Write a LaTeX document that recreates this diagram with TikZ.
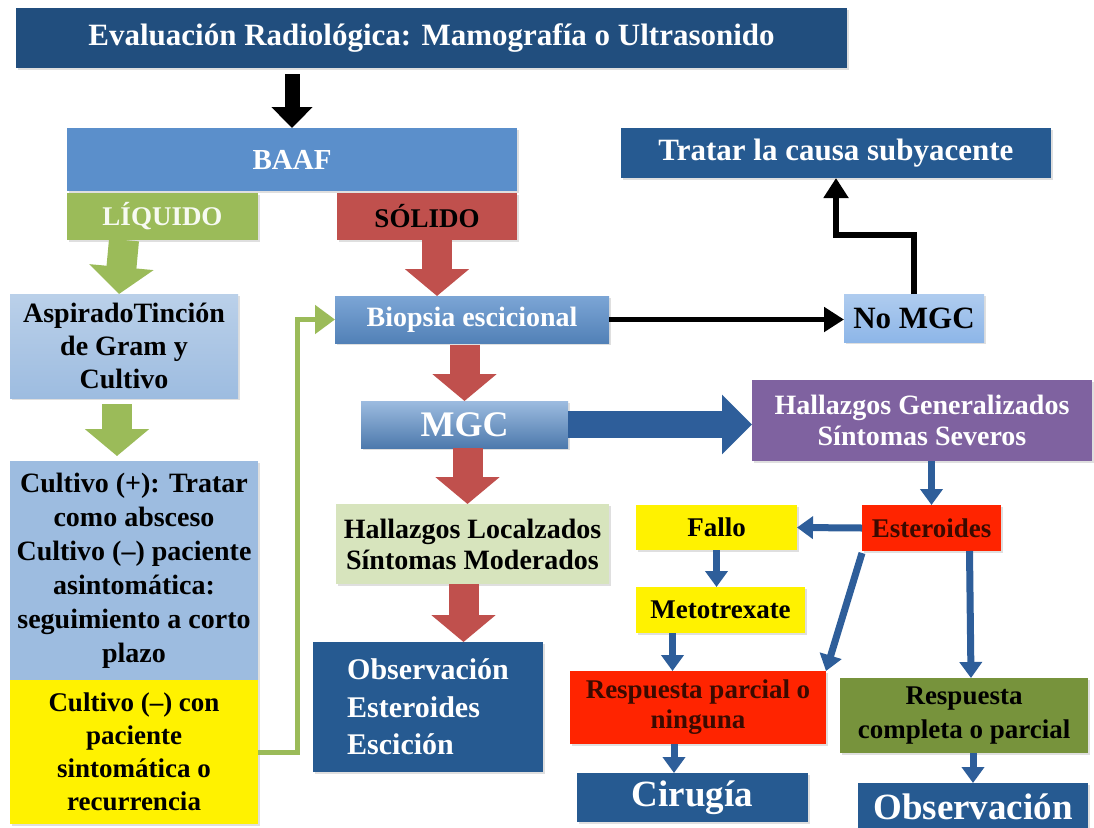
\documentclass[tikz,border=0pt]{standalone}
\usepackage{fontspec}
\setmainfont{Liberation Serif}
\usetikzlibrary{arrows.meta,calc,shadows}
\definecolor{dblue}{HTML}{214E7E}
\definecolor{mblue}{HTML}{265A91}
\definecolor{baafc}{HTML}{5B8FCB}
\definecolor{lgreen}{HTML}{9BBB59}
\definecolor{sred}{HTML}{C0504D}
\definecolor{lblue}{HTML}{9DBCE0}
\definecolor{nblue}{HTML}{8DB6E8}
\definecolor{purp}{HTML}{7F62A0}
\definecolor{pgreen}{HTML}{D7E4BD}
\definecolor{bred}{HTML}{FF2400}
\definecolor{olive}{HTML}{77933C}
\definecolor{ablue}{HTML}{2E5E9A}
\definecolor{maroon}{HTML}{3B0A00}
\newcommand\fsz[2]{\fontsize{#1}{#2}\selectfont\bfseries}
\tikzset{
  box/.style={anchor=north west, inner sep=0pt, outer sep=0pt, align=center,
    drop shadow={opacity=0.25, shadow xshift=1.5pt, shadow yshift=-1.5pt}},
  blk/.style={draw=black, line width=15pt, -{Triangle[width=40pt,length=21pt]}},
  garr/.style={draw=lgreen, line width=30pt, -{Triangle[width=63pt,length=27pt]}},
  rarr/.style={draw=sred, line width=30pt, -{Triangle[width=63pt,length=27pt]}},
  barr/.style={draw=ablue, line width=7pt, -{Triangle[width=22pt,length=16pt]}},
  bigarr/.style={draw=ablue, line width=27pt, -{Triangle[width=58pt,length=30pt]}},
  kline/.style={draw=black, line width=5pt, -{Triangle[width=24pt,length=20pt]}},
  gline/.style={draw=lgreen, line width=5pt, -{Triangle[width=28pt,length=20pt]}},
}
\begin{document}
\begin{tikzpicture}[x=1pt,y=-1pt]
\useasboundingbox[fill=white] (0,0) rectangle (1094,827);

% nodes
\node[box, fill=dblue, text=white, minimum width=831pt, minimum height=60pt, font=\fsz{31}{37}] (title) at (16,8) {Evaluación Radiológica: Mamografía o Ultrasonido};
\node[box, fill=baafc, text=white, minimum width=450pt, minimum height=63pt, font=\fsz{29}{35}] (baaf) at (67,128) {BAAF};
\node[box, fill=lgreen, text=white!92!lgreen, minimum width=191pt, minimum height=47pt, font=\fsz{27}{32}] (liq) at (67,193) {LÍQUIDO};
\node[box, fill=sred, text=black, minimum width=180pt, minimum height=47pt, font=\fsz{27}{32}] (sol) at (337,193) {SÓLIDO};
\node[box, top color=lblue!70!white, bottom color=lblue, text=black, minimum width=228pt, minimum height=104pt, font=\fsz{28}{33}] (asp) at (10,294) {AspiradoTinción\\de Gram y\\Cultivo};
\node[box, fill=lblue, text=black, minimum width=248pt, minimum height=219pt, font=\fsz{28}{34}] (cul) at (10,461) {Cultivo (+): Tratar\\como absceso\\Cultivo (--) paciente\\asintomática:\\seguimiento a corto\\plazo};
\node[box, fill=yellow, text=black, minimum width=248pt, minimum height=144pt, font=\fsz{27}{33}] (yel) at (10,680) {Cultivo (--) con\\paciente\\sintomática o\\recurrencia};
\node[box, top color=baafc!80!white, bottom color=baafc!90!black, text=white, minimum width=274pt, minimum height=47pt, font=\fsz{28}{33}] (bio) at (335,296) {Biopsia escicional};
\node[box, top color=nblue!70!white, bottom color=nblue, text=black, minimum width=140pt, minimum height=48pt, font=\fsz{31}{37}] (nomgc) at (844,294) {No MGC};
\node[box, fill=mblue, text=white, minimum width=430pt, minimum height=50pt, font=\fsz{31}{37}] (tratar) at (621,128) {Tratar la causa subyacente};
\node[box, top color=baafc!60!white, bottom color=baafc!85!black, text=white, minimum width=207pt, minimum height=47pt, font=\fsz{36}{42}] (mgc) at (361,401) {MGC};
\node[box, fill=purp, text=white, minimum width=340pt, minimum height=81pt, font=\fsz{28}{31}] (hg) at (752,380) {Hallazgos Generalizados\\Síntomas Severos};
\node[box, fill=pgreen, text=black, minimum width=273pt, minimum height=80pt, font=\fsz{28}{31}] (hl) at (336,504) {Hallazgos Localzados\\Síntomas Moderados};
\node[box, fill=mblue, text=white, minimum width=230pt, minimum height=130pt, align=left, font=\fsz{30}{37.5}] (obs) at (313,642) {Observación\\Esteroides\\Escición};
\node[box, fill=bred, text=maroon, minimum width=139pt, minimum height=46pt, font=\fsz{27}{32}] (est) at (862,505) {Esteroides};
\node[box, fill=yellow, text=black, minimum width=161pt, minimum height=45pt, font=\fsz{27}{32}] (fallo) at (636,505) {Fallo};
\node[box, fill=yellow, text=black, minimum width=169pt, minimum height=46pt, font=\fsz{27}{32}] (meto) at (636,587) {Metotrexate};
\node[box, fill=bred, text=maroon, minimum width=256pt, minimum height=73pt, font=\fsz{27}{30}] (rp) at (570,671) {Respuesta parcial o\\ninguna};
\node[box, fill=olive, text=black, minimum width=248pt, minimum height=75pt, font=\fsz{27}{34}] (rc) at (840,678) {Respuesta\\completa o parcial};
\node[box, fill=mblue, text=white, minimum width=231pt, minimum height=49pt, font=\fsz{37}{43}] (cir) at (577,773) {Cirugía};
\node[box, fill=mblue, text=white, minimum width=230pt, minimum height=47pt, font=\fsz{37}{43}] (obs2) at (858,783) {Observación};

% connectors
\draw[blk] ([yshift=-6pt]baaf.north |- title.south) -- (baaf.north);
\draw[garr] (asp.north |- liq.south) -- ([xshift=-5pt]asp.north);
\draw[garr] ([xshift=-7pt,yshift=-6pt]asp.south) -- ([xshift=-7pt,yshift=5pt]asp.south |- cul.north);
\draw[rarr] ([xshift=10pt]sol.south) -- ([xshift=10pt]sol.south |- bio.north);
\draw[rarr] ([yshift=-2pt]mgc.north |- bio.south) -- (mgc.north);
\draw[rarr] ([xshift=3pt]mgc.south) -- ([xshift=3pt]mgc.south |- hl.north);
\draw[rarr] ([xshift=-9pt]hl.south) -- ([xshift=-9pt]hl.south |- obs.north);
\draw[gline] (yel.east) -- ++(39,0) |- (bio.west);
\draw[kline] (bio.east) -- (bio.east -| nomgc.west);
\draw[kline, line width=6pt] (nomgc.north) -- (nomgc.north |- 0,235) -| (tratar.south);
\draw[bigarr] (mgc.east) -- (mgc.east -| hg.west);
\draw[barr] (est.north |- hg.south) -- (est.north);
\draw[barr] (est.west) -- (fallo.east);
\draw[barr] (fallo.south) -- (fallo.south |- meto.north);
\draw[barr] ([xshift=-48pt]meto.south) -- ([xshift=-48pt]meto.south |- rp.north);
\draw[barr] ([yshift=-2pt]est.south west) -- (rp.north east);
\draw[barr] ([xshift=38pt]est.south) -- ([xshift=7pt]rc.north);
\draw[barr] ([xshift=-24pt]rp.south) -- ([xshift=-24pt]rp.south |- cir.north);
\draw[barr] (obs2.north |- rc.south) -- (obs2.north);
\end{tikzpicture}
\end{document}
